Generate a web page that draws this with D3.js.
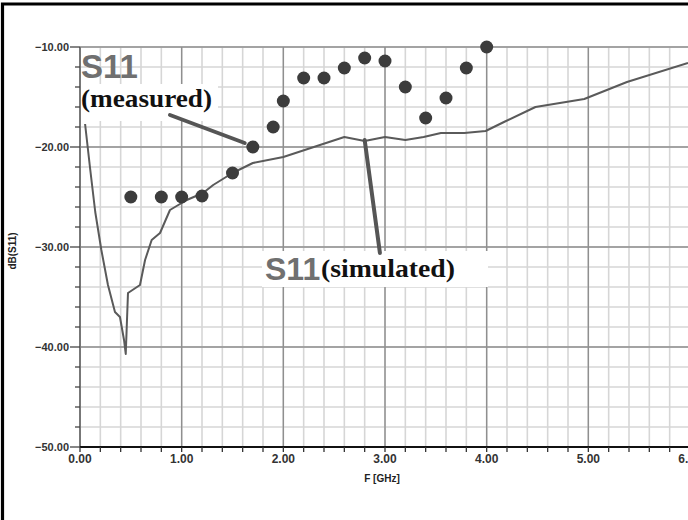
<!DOCTYPE html>
<html>
<head>
<meta charset="utf-8">
<script src="https://cdn.jsdelivr.net/npm/d3@7"></script>
<style>
  html, body { margin: 0; padding: 0; background: #fff; }
  svg { display: block; }
</style>
</head>
<body>
<svg id="chart" width="688" height="520"></svg>
<script>
// ---------- data ----------
const measuredFreq = [0.5, 0.8, 1.0, 1.2, 1.5, 1.7, 1.9, 2.0, 2.2, 2.4, 2.6, 2.8, 3.0, 3.2, 3.4, 3.6, 3.8, 4.0];
const measuredDb   = [-25.0, -25.0, -25.0, -24.9, -22.6, -20.0, -18.0, -15.4, -13.1, -13.1, -12.1, -11.1, -11.4, -14.0, -17.1, -15.1, -12.1, -10.0];

const simFreq = [0.05, 0.10, 0.15, 0.21, 0.275, 0.344, 0.393, 0.433, 0.45, 0.472, 0.59, 0.64, 0.705, 0.787, 0.885, 0.934, 1.05, 1.21, 1.31, 1.50, 1.70, 2.00, 2.36, 2.60, 2.80, 3.00, 3.20, 3.38, 3.55, 3.78, 3.99, 4.17, 4.48, 4.96, 5.38, 5.98];
const simDb   = [-17.7, -22.2, -26.5, -30.3, -33.8, -36.5, -37.0, -39.3, -40.7, -34.6, -33.8, -31.3, -29.3, -28.6, -26.3, -26.0, -25.3, -24.6, -23.8, -22.6, -21.6, -21.0, -19.8, -19.0, -19.4, -19.0, -19.3, -19.0, -18.6, -18.6, -18.4, -17.5, -16.0, -15.2, -13.5, -11.6];

const xTicks = [0, 1, 2, 3, 4, 5, 6];
const yTicks = [-50, -40, -30, -20, -10];
const xLabel = "F [GHz]";
const yLabel = "dB(S11)";

// ---------- setup ----------
const svg = d3.select("#chart");
const x = d3.scaleLinear().domain([0, 6]).range([80, 690]);
const y = d3.scaleLinear().domain([-50, -10]).range([447, 47]);

const minorX = d3.range(0, 6.001, 0.2);
const minorY = d3.range(-50, -9.999, 2);

// grid minor
const grid = svg.append("g");
grid.selectAll("line.mx").data(minorX).join("line")
  .attr("x1", d => x(d)).attr("x2", d => x(d))
  .attr("y1", y(-10)).attr("y2", y(-50))
  .attr("stroke", "#d6d6d6").attr("stroke-width", 1.6);
grid.selectAll("line.my").data(minorY).join("line")
  .attr("x1", x(0)).attr("x2", x(6))
  .attr("y1", d => y(d)).attr("y2", d => y(d))
  .attr("stroke", "#d6d6d6").attr("stroke-width", 1.6);
// grid major
grid.selectAll("line.Mx").data(xTicks).join("line")
  .attr("x1", d => x(d)).attr("x2", d => x(d))
  .attr("y1", y(-10)).attr("y2", y(-50))
  .attr("stroke", "#8f8f8f").attr("stroke-width", 1.4);
grid.selectAll("line.My").data(yTicks).join("line")
  .attr("x1", x(0)).attr("x2", x(6))
  .attr("y1", d => y(d)).attr("y2", d => y(d))
  .attr("stroke", "#8f8f8f").attr("stroke-width", 1.4);

// white boxes behind annotations
svg.append("rect").attr("x", 81).attr("y", 84).attr("width", 137).attr("height", 37).attr("fill", "#fff");
svg.append("rect").attr("x", 262).attr("y", 251).attr("width", 226).attr("height", 36).attr("fill", "#fff");

// left axis
svg.append("line").attr("x1", x(0)).attr("x2", x(0)).attr("y1", y(-10)).attr("y2", y(-50))
  .attr("stroke", "#777").attr("stroke-width", 2);
svg.selectAll("line.ytk").data(minorY).join("line")
  .attr("x1", d => (d % 10 === 0) ? 70 : 75).attr("x2", x(0))
  .attr("y1", d => y(d)).attr("y2", d => y(d))
  .attr("stroke", "#444").attr("stroke-width", 1.3);
svg.selectAll("text.ytl").data(yTicks).join("text")
  .attr("x", 69).attr("y", d => y(d)).attr("dy", "0.35em")
  .attr("text-anchor", "end")
  .attr("font-family", "Liberation Sans, Arial, sans-serif").attr("font-weight", "bold")
  .attr("font-size", 11).attr("fill", "#333")
  .text(d => d3.format(".2f")(d));

// bottom axis
svg.append("line").attr("x1", x(0)).attr("x2", 688).attr("y1", y(-50)).attr("y2", y(-50))
  .attr("stroke", "#111").attr("stroke-width", 2.2);
svg.selectAll("line.xtk").data(minorX).join("line")
  .attr("x1", d => x(d)).attr("x2", d => x(d))
  .attr("y1", y(-50)).attr("y2", y(-50) + 5)
  .attr("stroke", "#333").attr("stroke-width", 1.3);
svg.selectAll("text.xtl").data(xTicks).join("text")
  .attr("x", d => x(d)).attr("y", 463)
  .attr("text-anchor", "middle")
  .attr("font-family", "Liberation Sans, Arial, sans-serif").attr("font-weight", "bold")
  .attr("font-size", 12).attr("fill", "#333")
  .text(d => d3.format(".2f")(d));

svg.append("text").attr("x", 382).attr("y", 482).attr("text-anchor", "middle")
  .attr("font-family", "Liberation Sans, Arial, sans-serif").attr("font-weight", "bold")
  .attr("font-size", 10).attr("fill", "#222").text(xLabel);
svg.append("text").attr("transform", "translate(16,251) rotate(-90)").attr("text-anchor", "middle")
  .attr("font-family", "Liberation Sans, Arial, sans-serif").attr("font-weight", "bold")
  .attr("font-size", 10).attr("fill", "#222").text(yLabel);

// simulated line
const line = d3.line().x((d, i) => x(simFreq[i])).y(d => y(d));
svg.append("path").attr("d", line(simDb))
  .attr("fill", "none").attr("stroke", "#5a5a5a").attr("stroke-width", 2)
  .attr("stroke-linejoin", "round");

// measured dots
svg.selectAll("circle.m").data(measuredDb).join("circle")
  .attr("cx", (d, i) => x(measuredFreq[i])).attr("cy", d => y(d))
  .attr("r", 6.5).attr("fill", "#3c3c3c");

// annotations
svg.append("line")
  .attr("x1", x(0.885)).attr("y1", y(-16.8)).attr("x2", x(1.62)).attr("y2", y(-19.6))
  .attr("stroke", "#555").attr("stroke-width", 4).attr("stroke-linecap", "round");
svg.append("line")
  .attr("x1", x(2.80)).attr("y1", y(-19.3)).attr("x2", x(2.95)).attr("y2", y(-30.6))
  .attr("stroke", "#555").attr("stroke-width", 4).attr("stroke-linecap", "round");

svg.append("text").attr("x", 81).attr("y", 78)
  .attr("font-family", "Liberation Sans, Arial, sans-serif").attr("font-weight", "bold")
  .attr("font-size", 33).attr("fill", "#707070").text("S11");
svg.append("text").attr("x", 81).attr("y", 106.5)
  .attr("font-family", "Liberation Serif, Times New Roman, serif").attr("font-weight", "bold")
  .attr("font-size", 25).attr("fill", "#111")
  .attr("textLength", 131).attr("lengthAdjust", "spacingAndGlyphs").text("(measured)");

svg.append("text").attr("x", 265).attr("y", 280)
  .attr("font-family", "Liberation Sans, Arial, sans-serif").attr("font-weight", "bold")
  .attr("font-size", 32).attr("fill", "#707070").text("S11");
svg.append("text").attr("x", 321).attr("y", 276.5)
  .attr("font-family", "Liberation Serif, Times New Roman, serif").attr("font-weight", "bold")
  .attr("font-size", 25).attr("fill", "#111")
  .attr("textLength", 134).attr("lengthAdjust", "spacingAndGlyphs").text("(simulated)");

// outer frame (top and left)
svg.append("path").attr("d", "M2.5,520 L2.5,4 L688,4")
  .attr("fill", "none").attr("stroke", "#000").attr("stroke-width", 3.2);
</script>
</body>
</html>
